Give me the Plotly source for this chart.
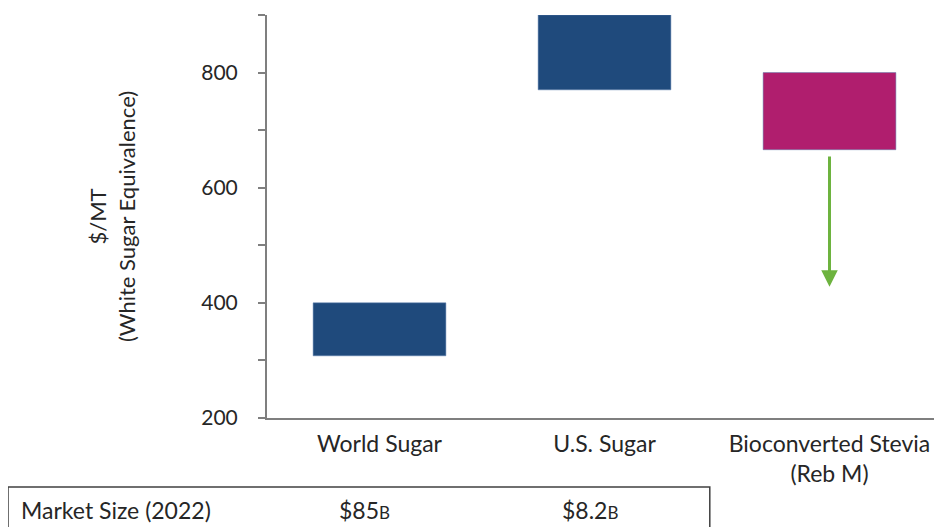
import plotly.graph_objects as go

# ---- data ----
categories = ["World Sugar", "U.S. Sugar", "Bioconverted Stevia<br>(Reb M)"]
price_low = [308, 770, 666]
price_high = [400, 900, 800]
bar_colors = ["#1F4A7C", "#1F4A7C", "#B01E6E"]
arrow_from = 657
arrow_to = 428
table_label = "Market Size (2022)"
market_sizes = ["$85", "$8.2"]
market_units = ["B", "B"]
market_xpos = [0.145, 0.4785]
y_tickvals = [200, 300, 400, 500, 600, 700, 800, 900]
y_ticktext = ["200", "", "400", "", "600", "", "800", ""]

FONT = "Lato"
AX = "#7F7F7F"
TXT = "#262626"

fig = go.Figure()
fig.add_trace(go.Bar(
    x=categories,
    y=[h - l for h, l in zip(price_high, price_low)],
    base=price_low,
    marker=dict(color=bar_colors, line=dict(color="#5A7FAF", width=0.5)),
    width=0.59,
    hoverinfo="skip",
))

# green downward arrow under stevia
fig.add_annotation(
    x=categories[2], y=arrow_to, ax=categories[2], ay=arrow_from,
    xref="x", yref="y", axref="x", ayref="y",
    showarrow=True, arrowhead=2, arrowsize=1.1, arrowwidth=3,
    arrowcolor="#6DB33F", text="",
)

# table row at bottom
fig.add_shape(type="rect", xref="paper", yref="paper",
              x0=-0.3837, x1=0.656, y0=-0.32, y1=-0.171,
              line=dict(color="#404040", width=1.5), fillcolor="rgba(0,0,0,0)")
fig.add_annotation(xref="paper", yref="paper", x=-0.368, y=-0.228,
                   text=table_label, showarrow=False, xanchor="left", yanchor="middle",
                   font=dict(family=FONT, size=23, color=TXT))
for xp, v, u in zip(market_xpos, market_sizes, market_units):
    fig.add_annotation(xref="paper", yref="paper", x=xp, y=-0.228,
                       text=f"{v}<span style='font-size:17px'>{u}</span>",
                       showarrow=False, xanchor="center", yanchor="middle",
                       font=dict(family=FONT, size=23, color=TXT))

fig.update_layout(
    width=942, height=527,
    margin=dict(l=259, r=8, t=7, b=117),
    paper_bgcolor="white", plot_bgcolor="white",
    showlegend=False,
    font=dict(family=FONT, size=23, color=TXT),
)
fig.update_xaxes(
    range=[-0.5, 2.5], showline=True, linecolor=AX, linewidth=2,
    ticks="", showgrid=False, zeroline=False, automargin=False,
    ticklabelstandoff=4,
    tickfont=dict(family=FONT, size=23, color=TXT),
)
fig.update_yaxes(
    range=[200, 900], showline=True, linecolor=AX, linewidth=2,
    ticks="outside", ticklen=7, tickcolor=AX, tickwidth=1.5,
    tickvals=y_tickvals, ticktext=y_ticktext, ticklabelstandoff=16,
    showgrid=False, zeroline=False, automargin=False,
    tickfont=dict(family=FONT, size=21, color=TXT),
    title=dict(text="$/MT<br>(White Sugar Equivalence)", standoff=60,
               font=dict(family=FONT, size=22, color=TXT)),
)

fig.write_html("out.html")
